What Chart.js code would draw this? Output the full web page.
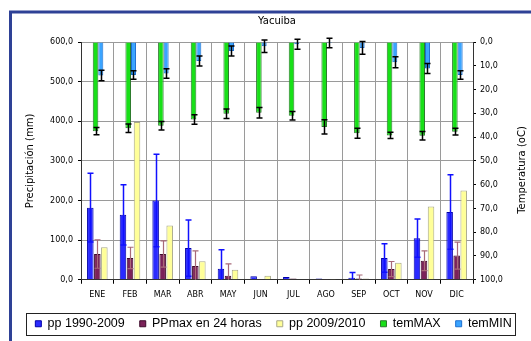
<!DOCTYPE html>
<html>
<head>
<meta charset="utf-8">
<script src="https://cdn.jsdelivr.net/npm/chart.js@4.4.0/dist/chart.umd.min.js"></script>
<style>
  html, body { margin: 0; padding: 0; background: #fff; }
</style>
</head>
<body>
<canvas id="chart" width="531" height="341"></canvas>
<script>
// Yacuiba: precipitation (left axis) and temperature (right axis, reversed)
const months = ["ENE", "FEB", "MAR", "ABR", "MAY", "JUN", "JUL", "AGO", "SEP", "OCT", "NOV", "DIC"];

const pp19902009 = [182, 164, 200, 80, 28, 9, 7, 3, 5, 55, 105, 171];
const pp19902009Err = [87, 76, 117, 71, 48, 0, 0, 0, 13, 36, 48, 94];
const ppMax24h = [65, 55, 65, 35, 10, 2, 3, 2, 3, 27, 48, 61];
const ppMax24hErr = [36, 27, 33, 38, 30, 0, 0, 0, 9, 19, 25, 34];
const pp20092010 = [82, 398, 137, 47, 25, 10, 1, 2, 3, 43, 185, 225];

const temMax = [37.5, 36.3, 35.2, 32.6, 30.2, 29.8, 31.0, 35.7, 38.4, 39.3, 39.4, 37.7];
const temMaxErr = [1.5, 1.8, 1.8, 2.0, 2.0, 2.2, 1.8, 3.0, 2.1, 1.3, 1.8, 1.4];
const temMin = [14.1, 13.9, 13.2, 8.0, 3.8, 1.8, 0.9, 0.4, 2.5, 8.5, 11.1, 13.9];
const temMinErr = [2.2, 1.8, 2.0, 2.1, 2.1, 2.6, 2.1, 2.0, 2.7, 2.3, 2.1, 1.8];

const fmt = v => Number(v).toFixed(1).replace(".", ",");

// draws error bars from each dataset's `errors` array through its own y scale
// (precipitation bars stop at the 0 line, temperature ones may pass the top)
const errorBars = {
  id: "errorBars",
  afterDatasetsDraw(chart) {
    const ctx = chart.ctx;
    chart.data.datasets.forEach((ds, i) => {
      if (!ds.errors) return;
      const meta = chart.getDatasetMeta(i);
      const yScale = chart.scales[meta.yAxisID];
      ctx.save();
      ctx.strokeStyle = ds.errorColor;
      ctx.lineWidth = ds.errorWidth || 1;
      meta.data.forEach((bar, j) => {
        const e = ds.errors[j];
        if (!e) return;
        const v = ds.data[j];
        const lo = ds.clipAtZero ? Math.max(v - e, 0) : v - e;
        const x = Math.round(bar.x) + 0.5;
        const y1 = yScale.getPixelForValue(lo);
        const y2 = yScale.getPixelForValue(v + e);
        const cap = 3;
        ctx.beginPath();
        ctx.moveTo(x, y1); ctx.lineTo(x, y2);
        if (lo === v - e) { ctx.moveTo(x - cap, y1); ctx.lineTo(x + cap, y1); }
        ctx.moveTo(x - cap, y2); ctx.lineTo(x + cap, y2);
        ctx.stroke();
      });
      ctx.restore();
    });
  }
};

// white background, blue frame, legend box and the right axis title
const decorations = {
  id: "decorations",
  beforeDraw(chart) {
    const ctx = chart.ctx;
    ctx.save();
    ctx.fillStyle = "#fff";
    ctx.fillRect(0, 0, chart.width, chart.height);
    ctx.strokeStyle = "#2e4196";
    ctx.lineWidth = 3;
    ctx.beginPath();
    ctx.moveTo(10.5, chart.height);
    ctx.lineTo(10.5, 12);
    ctx.lineTo(chart.width, 12);
    ctx.stroke();
    ctx.restore();
  },
  afterDraw(chart) {
    const ctx = chart.ctx;
    ctx.save();
    ctx.strokeStyle = "#222";
    ctx.lineWidth = 1;
    ctx.strokeRect(26.5, 313.5, 489, 22);
    ctx.translate(522, 170);
    ctx.rotate(-Math.PI / 2);
    ctx.fillStyle = "#000";
    ctx.font = "10px 'DejaVu Sans'";
    ctx.textAlign = "center";
    ctx.textBaseline = "middle";
    ctx.fillText("Temperatura (oC)", 0, 0);
    ctx.restore();
  }
};

const gridColor = "#9a9a9a";
const axisColor = "#333";
const tickFont = { family: "DejaVu Sans", size: 8 };

// x scale is "stacked" only to share slots between groups a/b/c;
// value axes are not stacked, so bars keep their own heights
new Chart(document.getElementById("chart"), {
  type: "bar",
  plugins: [decorations, errorBars],
  data: {
    labels: months,
    datasets: [
      {
        label: "pp 1990-2009",
        data: pp19902009,
        errors: pp19902009Err,
        errorColor: "#1010ff",
        errorWidth: 1.5,
        clipAtZero: true,
        backgroundColor: "#2a2aff",
        borderColor: "#0000a8",
        borderWidth: 1,
        yAxisID: "y",
        stack: "a",
        categoryPercentage: 0.645,
        barPercentage: 0.93
      },
      {
        label: "PPmax en 24 horas",
        data: ppMax24h,
        errors: ppMax24hErr,
        errorColor: "#a86a78",
        errorWidth: 1.2,
        clipAtZero: true,
        backgroundColor: "#7b2259",
        borderColor: "#3d0a2a",
        borderWidth: 1,
        yAxisID: "y",
        stack: "b",
        categoryPercentage: 0.645,
        barPercentage: 0.93
      },
      {
        label: "pp 2009/2010",
        data: pp20092010,
        backgroundColor: "#ffff99",
        borderColor: "#a8a888",
        borderWidth: 1,
        yAxisID: "y",
        stack: "c",
        categoryPercentage: 0.645,
        barPercentage: 0.93
      },
      {
        label: "temMAX",
        data: temMax,
        errors: temMaxErr,
        errorColor: "#000",
        errorWidth: 1.5,
        backgroundColor: "#18e018",
        borderColor: "#2a7a2a",
        borderWidth: 1,
        yAxisID: "y1",
        stack: "a",
        categoryPercentage: 0.165,
        barPercentage: 3.1
      },
      {
        label: "temMIN",
        data: temMin,
        errors: temMinErr,
        errorColor: "#000",
        errorWidth: 1.5,
        backgroundColor: "#3aa4ff",
        borderColor: "#1c6fd0",
        borderWidth: 1,
        yAxisID: "y1",
        stack: "c",
        categoryPercentage: 0.32,
        barPercentage: 1.43
      }
    ]
  },
  options: {
    responsive: false,
    animation: false,
    devicePixelRatio: 1,
    layout: { padding: { left: 16, right: 0, top: 0, bottom: 1 } },
    plugins: {
      title: {
        display: true,
        text: "Yacuiba",
        fullSize: false,
        color: "#000",
        font: { family: "DejaVu Sans", size: 10, weight: "normal" },
        padding: { top: 15, bottom: 15 }
      },
      legend: {
        position: "bottom",
        labels: {
          color: "#000",
          font: { family: "Liberation Sans", size: 12.5 },
          boxWidth: 6,
          boxHeight: 6,
          padding: 15
        }
      },
      tooltip: { enabled: false }
    },
    scales: {
      x: {
        type: "category",
        stacked: true,
        afterFit: s => { s.height = 22.75; },
        grid: { color: gridColor, tickColor: "#000", tickLength: 4, offset: true },
        border: { color: axisColor },
        ticks: { color: "#000", font: tickFont, padding: 6, maxRotation: 0, autoSkip: false }
      },
      y: {
        position: "left",
        stacked: false,
        min: 0,
        max: 600,
        afterFit: s => { s.width = 65; },
        grid: { color: gridColor, tickColor: "#000", tickLength: 3 },
        border: { color: axisColor },
        ticks: { stepSize: 100, color: "#000", font: tickFont, padding: 5, callback: v => fmt(v) },
        title: {
          display: true,
          text: "Precipitación (mm)",
          color: "#000",
          font: { family: "DejaVu Sans", size: 10 },
          padding: { top: 8, bottom: 0 }
        }
      },
      y1: {
        position: "right",
        stacked: false,
        reverse: true,
        min: 0,
        max: 100,
        afterFit: s => { s.width = 58; },
        grid: { drawOnChartArea: false, tickColor: "#000", tickLength: 3 },
        border: { color: axisColor },
        ticks: { stepSize: 10, color: "#000", font: tickFont, padding: 4, callback: v => fmt(v) }
      }
    }
  }
});
</script>
</body>
</html>
